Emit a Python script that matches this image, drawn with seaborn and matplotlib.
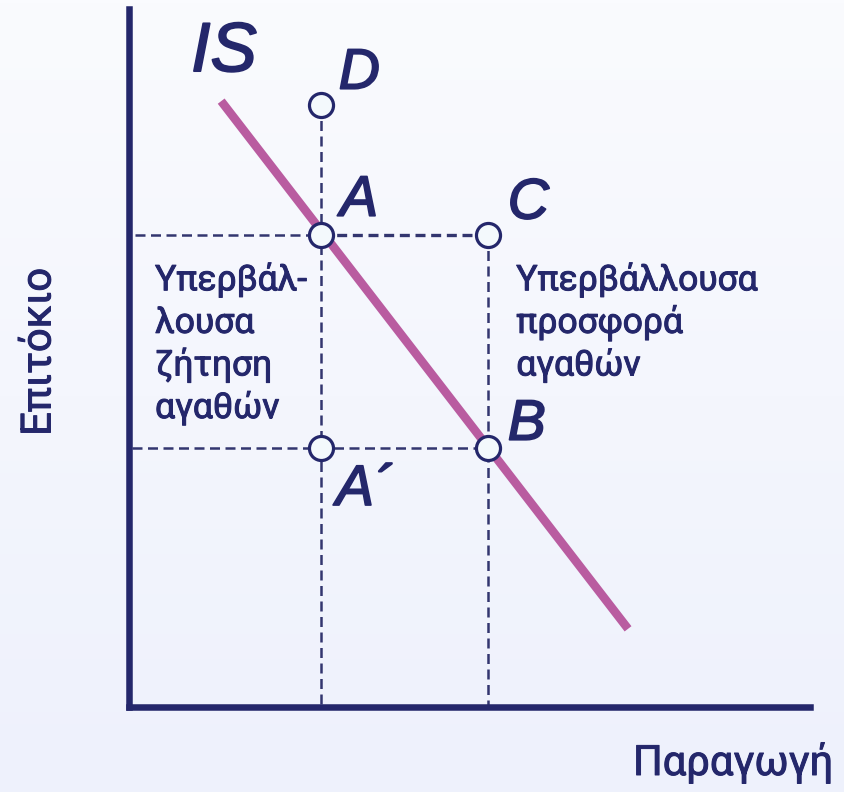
import numpy as np
import pandas as pd
import matplotlib.pyplot as plt
import matplotlib.patheffects as pe
import seaborn as sns
from matplotlib.colors import LinearSegmentedColormap

# IS curve and the marked points (arbitrary units, origin at the axes corner)
is_output = [1.36, 7.33]
is_rate = [8.68, 1.12]
point_names = ["D", "A", "C", "A´", "B"]
point_output = [2.82, 2.82, 5.28, 2.82, 5.28]
point_rate = [8.62, 6.76, 6.76, 3.71, 3.71]
left_note = ["Υπερβάλ-", "λουσα", "ζήτηση", "αγαθών"]
right_note = ["Υπερβάλλουσα", "προσφορά", "αγαθών"]
x_label = "Παραγωγή"
y_label = "Επιτόκιο"

navy = "#24276b"
dash_col = "#33366f"
pink = "#b95ca0"

sns.set_theme(style="white")
plt.rcParams["font.family"] = ["Roboto", "DejaVu Sans"]
thick = [pe.withStroke(linewidth=1.3, foreground=navy)]
thin = [pe.withStroke(linewidth=0.7, foreground=navy)]
letter_font = dict(family=["Liberation Sans", "DejaVu Sans"], style="italic", color=navy,
                   path_effects=thick)

fig = plt.figure(figsize=(8.45, 7.92), dpi=100)

# soft vertical gradient background
bg = fig.add_axes([0, 0, 1, 1], zorder=0)
grad = np.linspace(0, 1, 256).reshape(-1, 1)
bg.imshow(grad, aspect="auto", extent=[0, 1, 0, 1], origin="upper",
          cmap=LinearSegmentedColormap.from_list("bg", ["#fafbfe", "#eef1fc"]))
bg.axis("off")

ax = fig.add_axes([128.5 / 845, 1 - 707 / 792, (810 - 128.5) / 845, (707 - 9) / 792], zorder=1)
ax.set_facecolor("none")
ax.set_xlim(0, 10)
ax.set_ylim(0, 10)

pts = pd.DataFrame({"name": point_names, "x": point_output, "y": point_rate}).set_index("name")

# guide lines
dash = dict(color=dash_col, lw=1.8, dashes=(4.0, 2.2), zorder=2)
ax.plot([pts.x["D"], pts.x["D"]], [pts.y["D"], 0], **dash)
ax.plot([pts.x["C"], pts.x["C"]], [pts.y["C"], 0], **dash)
ax.plot([0.1, pts.x["A"]], [pts.y["A"], pts.y["A"]], **dash)
ax.plot([pts.x["A"], pts.x["C"]], [pts.y["C"], pts.y["C"]], color=dash_col, lw=2.4,
        dashes=(3.0, 1.7), zorder=2)
ax.plot([0.05, pts.x["B"]], [pts.y["B"], pts.y["B"]], **dash)

# IS curve
sns.lineplot(x=is_output, y=is_rate, color=pink, lw=6.2, ax=ax, zorder=3,
             solid_capstyle="butt")

# points
sns.scatterplot(data=pts.reset_index(), x="x", y="y", s=300, color="#f3f9fc",
                edgecolor=navy, linewidth=2.3, ax=ax, zorder=5, legend=False)

offsets = {"D": (13, 12), "A": (14, 14), "C": (14, 12), "B": (14, 6), "A´": (11, -41)}
for name, (dx, dy) in offsets.items():
    ax.annotate(name, (pts.x[name], pts.y[name]), xytext=(dx, dy), textcoords="offset points",
                fontsize=41, ha="left", va="baseline", **letter_font)

ax.text(0.92, 9.11, "IS", fontsize=50, ha="left", va="baseline", **letter_font)

for i, line in enumerate(left_note):
    ax.text(0.39, 5.97 - 0.61 * i, line, fontsize=25.5, color=navy, ha="left",
            va="baseline", path_effects=thin)
for i, line in enumerate(right_note):
    ax.text(5.69, 5.97 - 0.61 * i, line, fontsize=25.5, color=navy, ha="left",
            va="baseline", path_effects=thin)

fig.text(633 / 845, 1 - 775 / 792, x_label, fontsize=30, color=navy, ha="left",
         va="baseline", path_effects=thin)
fig.text(39 / 845, 1 - 352 / 792, y_label, fontsize=30, color=navy, rotation=90,
         ha="center", va="center", path_effects=thin)

ax.set_xticks([])
ax.set_yticks([])
ax.set_xlabel("")
ax.set_ylabel("")
for side in ["top", "right"]:
    ax.spines[side].set_visible(False)
for side in ["left", "bottom"]:
    ax.spines[side].set_color(navy)
    ax.spines[side].set_linewidth(4.7)
    ax.spines[side].set_capstyle("projecting")

fig.savefig("out.png", dpi=100)
